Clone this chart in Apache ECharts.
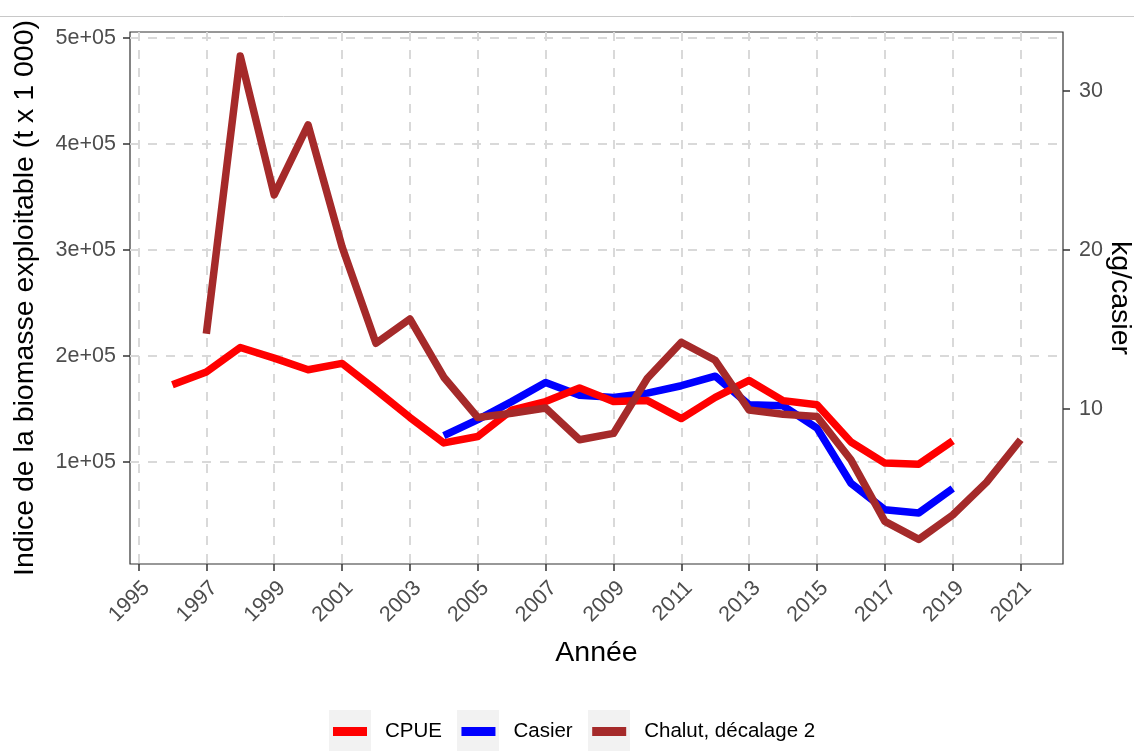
<!DOCTYPE html>
<html>
<head>
<meta charset="utf-8">
<script src="https://cdn.jsdelivr.net/npm/echarts@6/dist/echarts.min.js"></script>
<style>
html,body{margin:0;padding:0;background:#fff;}
#chart{width:1134px;height:751px;}
</style>
</head>
<body>
<div id="chart"></div>
<script>
// ---- data ----
const cpueYears = [1996,1997,1998,1999,2000,2001,2002,2003,2004,2005,2006,2007,2008,2009,2010,2011,2012,2013,2014,2015,2016,2017,2018,2019];
// CPUE in kg/casier (right axis)
const cpueValues = [11.53,12.33,13.87,13.2,12.47,12.87,11.2,9.47,7.87,8.27,9.93,10.47,11.33,10.47,10.53,9.4,10.73,11.8,10.53,10.27,7.93,6.6,6.53,8.0];

const casierYears = [2004,2005,2006,2007,2008,2009,2010,2011,2012,2013,2014,2015,2016,2017,2018,2019];
const casierValues = [125000,140000,157000,175000,163000,161000,165000,172000,181000,154000,153000,132000,80000,55000,52000,75000];

const chalutYears = [1997,1998,1999,2000,2001,2002,2003,2004,2005,2006,2007,2008,2009,2010,2011,2012,2013,2014,2015,2016,2017,2018,2019,2020,2021];
const chalutValues = [221000,483000,352000,418000,303000,212000,235000,180000,142000,146000,151000,121000,127000,179000,213000,196000,149000,145000,143000,102000,44000,27000,50000,81000,121000];

const xTickYears = [1995,1997,1999,2001,2003,2005,2007,2009,2011,2013,2015,2017,2019,2021];
const leftTicks = [100000,200000,300000,400000,500000];
const rightTicks = [10,20,30];

const seriesNames = ['CPUE','Casier','Chalut, décalage 2'];
const seriesColors = ['#FF0000','#0000FF','#A52A2A'];

// scale relation between axes: left = 15000 * right
const RATIO = 15000;
const leftMin = 3800, leftMax = 505700;

function pairs(xs, ys){ return xs.map((x,i)=>[x, ys[i]]); }

const FONT = 'Liberation Sans, Arial, Helvetica, sans-serif';

const chart = echarts.init(document.getElementById('chart'), null, {renderer:'canvas'});

const gridLine = {show:true, lineStyle:{color:'#d9d9d9', width:2, type:[9,9]}};

const option = {
  backgroundColor:'#ffffff',
  animation:false,
  textStyle:{fontFamily:FONT},
  grid:{left:130, right:71, top:32, bottom:187, containLabel:false, outerBoundsMode:'none',
        show:true, borderColor:'#333333', borderWidth:1.2, backgroundColor:'transparent'},
  graphic:[
    {type:'line', shape:{x1:0,y1:16.5,x2:1134,y2:16.5}, style:{stroke:'#c8c8c8', lineWidth:1}, z:0},
    {type:'rect', shape:{x:329,y:710,width:42,height:41}, style:{fill:'#f2f2f2'}, z:0},
    {type:'rect', shape:{x:457,y:710,width:42,height:41}, style:{fill:'#f2f2f2'}, z:0},
    {type:'rect', shape:{x:588,y:710,width:42,height:41}, style:{fill:'#f2f2f2'}, z:0}
  ],
  legend:{
    left:333, top:721, padding:0, icon:'rect', itemWidth:34, itemHeight:9, itemGap:19.5,
    data:seriesNames,
    textStyle:{fontSize:20.5, color:'#000', fontFamily:FONT, padding:[0,0,0,13]},
    selectedMode:false
  },
  xAxis:{
    type:'value', min:1994.75, max:2022.25,
    name:'Année', nameLocation:'middle', nameGap:75, nameMoveOverlap:false,
    nameTextStyle:{fontSize:28.5, color:'#000', fontFamily:FONT},
    axisLine:{show:false},
    axisTick:{show:true, length:7, customValues:xTickYears, lineStyle:{color:'#333', width:1.5}},
    axisLabel:{show:true, customValues:xTickYears, rotate:45, fontSize:21.5, color:'#4d4d4d', margin:13, fontFamily:FONT,
               verticalAlign:'top', formatter:v=>String(v)},
    splitLine:gridLine
  },
  yAxis:[
    {
      type:'value', min:leftMin, max:leftMax, position:'left',
      name:'Indice de la biomasse exploitable (t x 1 000)', nameLocation:'middle', nameGap:90, nameRotate:90, nameMoveOverlap:false,
      nameTextStyle:{fontSize:28.5, color:'#000', fontFamily:FONT},
      axisLine:{show:false},
      axisTick:{show:true, length:7, customValues:leftTicks, lineStyle:{color:'#333', width:1.5}},
      axisLabel:{show:true, customValues:leftTicks, fontSize:21.5, color:'#4d4d4d', margin:14, fontFamily:FONT,
                 formatter:v=>Math.round(v/100000)+'e+05'},
      splitLine:gridLine
    },
    {
      type:'value', min:leftMin/RATIO, max:leftMax/RATIO, position:'right',
      name:'kg/casier', nameLocation:'middle', nameGap:42, nameRotate:-90, nameMoveOverlap:false,
      nameTextStyle:{fontSize:28.5, color:'#000', fontFamily:FONT},
      axisLine:{show:false},
      axisTick:{show:true, length:7, customValues:rightTicks, lineStyle:{color:'#333', width:1.5}},
      axisLabel:{show:true, customValues:rightTicks, fontSize:21.5, color:'#4d4d4d', margin:16, fontFamily:FONT},
      splitLine:{show:false}
    }
  ],
  series:[
    {name:seriesNames[0], type:'line', yAxisIndex:1, data:pairs(cpueYears,cpueValues), showSymbol:false, symbol:'none',
     color:seriesColors[0], lineStyle:{width:7.5, color:seriesColors[0], cap:'butt', join:'round'}, z:4},
    {name:seriesNames[1], type:'line', yAxisIndex:0, data:pairs(casierYears,casierValues), showSymbol:false, symbol:'none',
     color:seriesColors[1], lineStyle:{width:7.5, color:seriesColors[1], cap:'butt', join:'round'}, z:3},
    {name:seriesNames[2], type:'line', yAxisIndex:0, data:pairs(chalutYears,chalutValues), showSymbol:false, symbol:'none',
     color:seriesColors[2], lineStyle:{width:7.5, color:seriesColors[2], cap:'butt', join:'round'}, z:5}
  ]
};
chart.setOption(option);
</script>
</body>
</html>
